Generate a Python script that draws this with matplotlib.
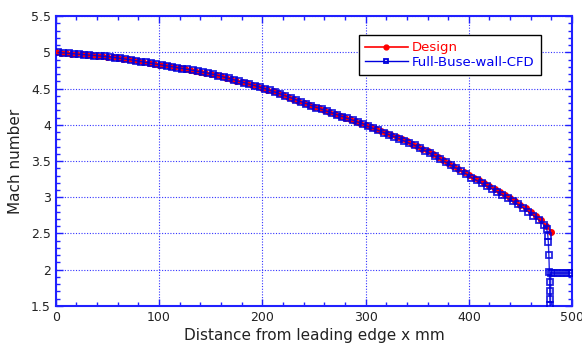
import matplotlib
matplotlib.use("Agg")
import matplotlib.pyplot as plt
from matplotlib.ticker import MultipleLocator

# Design curve (x in mm, Mach)
design_x = [i * 5 for i in range(97)]
design_m = [5.000, 4.994, 4.988, 4.982, 4.976, 4.970, 4.964, 4.958, 4.952, 4.946,
            4.940, 4.931, 4.921, 4.911, 4.901, 4.890, 4.878, 4.866, 4.854, 4.842,
            4.830, 4.818, 4.806, 4.794, 4.782, 4.770, 4.757, 4.744, 4.731, 4.718,
            4.705, 4.687, 4.668, 4.649, 4.630, 4.610, 4.590, 4.570, 4.550, 4.530,
            4.510, 4.486, 4.461, 4.436, 4.411, 4.385, 4.358, 4.331, 4.304, 4.277,
            4.250, 4.225, 4.200, 4.175, 4.150, 4.125, 4.100, 4.075, 4.050, 4.025,
            4.000, 3.973, 3.945, 3.917, 3.889, 3.860, 3.831, 3.801, 3.771, 3.741,
            3.710, 3.672, 3.633, 3.594, 3.555, 3.515, 3.474, 3.433, 3.392, 3.351,
            3.310, 3.271, 3.232, 3.193, 3.154, 3.115, 3.072, 3.028, 2.985, 2.943,
            2.900, 2.847, 2.794, 2.740, 2.680, 2.604, 2.520]

# Full-Buse-wall-CFD
cfd_x = [2.5 + i * 5 for i in range(95)] + [475.5, 476.5, 477.0, 477.5, 478.0, 478.2,
                                            478.4, 478.6, 478.8, 479.0, 479.3,
                                            482.0, 486.0, 490.0, 494.0, 498.0, 500.0]
cfd_m = [4.997, 4.991, 4.985, 4.979, 4.973, 4.967, 4.961, 4.955, 4.949, 4.943,
         4.936, 4.926, 4.916, 4.906, 4.896, 4.884, 4.872, 4.860, 4.848, 4.836,
         4.824, 4.812, 4.800, 4.788, 4.776, 4.764, 4.751, 4.738, 4.725, 4.712,
         4.696, 4.678, 4.659, 4.640, 4.620, 4.600, 4.580, 4.560, 4.540, 4.520,
         4.498, 4.474, 4.449, 4.424, 4.398, 4.372, 4.345, 4.318, 4.291, 4.264,
         4.238, 4.213, 4.188, 4.163, 4.138, 4.113, 4.088, 4.063, 4.038, 4.013,
         3.977, 3.949, 3.921, 3.893, 3.865, 3.836, 3.806, 3.776, 3.746, 3.716,
         3.681, 3.643, 3.604, 3.565, 3.525, 3.485, 3.444, 3.403, 3.362, 3.321,
         3.271, 3.232, 3.193, 3.154, 3.115, 3.074, 3.030, 2.987, 2.944, 2.902,
         2.854, 2.801, 2.747, 2.690, 2.622,
         2.560, 2.470, 2.380, 2.200, 1.970, 1.830, 1.710, 1.600, 1.520, 1.400, 1.960,
         1.955, 1.955, 1.955, 1.955, 1.955, 1.955]

blue = "#2020ff"

fig = plt.figure(figsize=(5.82, 3.52), dpi=100)
ax = fig.add_axes([0.0957, 0.1307, 0.8873, 0.8238])

ax.plot(design_x, design_m, color="red", lw=1.2, marker="o", ms=4,
        mfc="red", mec="red", mew=1.0, label="Design", zorder=3)
ax.plot(cfd_x, cfd_m, color="#0000dd", lw=1.0, marker="s", ms=4.8,
        mfc="none", mec="#0000dd", mew=1.3, alpha=0.85,
        label="Full-Buse-wall-CFD", zorder=4)

ax.set_xlim(0, 500)
ax.set_ylim(1.5, 5.5)
ax.xaxis.set_major_locator(MultipleLocator(100))
ax.xaxis.set_minor_locator(MultipleLocator(20))
ax.yaxis.set_minor_locator(MultipleLocator(0.1))
ax.set_yticks([1.5, 2, 2.5, 3, 3.5, 4, 4.5, 5, 5.5])
ax.set_yticklabels(["1.5", "2", "2.5", "3", "3.5", "4", "4.5", "5", "5.5"])

ax.tick_params(which="both", direction="in", top=True, right=True,
               color=blue, labelsize=9, labelcolor="#222222")
ax.tick_params(which="major", length=5, width=1.0)
ax.tick_params(which="minor", length=3, width=1.0)
for s in ax.spines.values():
    s.set_color(blue)
    s.set_linewidth(1.5)

ax.grid(True, which="major", color="#3333ff", linestyle=(0, (1, 1.5)), lw=0.8)
ax.set_axisbelow(True)

ax.set_xlabel("Distance from leading edge x mm", fontsize=11, color="#222222", labelpad=3)
ax.set_ylabel("Mach number", fontsize=11, color="#222222", labelpad=6)

leg = ax.legend(loc="upper right", bbox_to_anchor=(0.952, 0.958), fontsize=9.5,
                frameon=True, fancybox=False, edgecolor="black", framealpha=1,
                handlelength=3.2, borderpad=0.5, labelspacing=0.1, handletextpad=0.3)
leg.get_frame().set_linewidth(1.0)
for h in leg.legend_handles:
    h.set_markersize(3.5)
    h.set_alpha(1)
for t, c in zip(leg.get_texts(), ["red", "#0000ee"]):
    t.set_color(c)

fig.savefig("out.png", dpi=100)
